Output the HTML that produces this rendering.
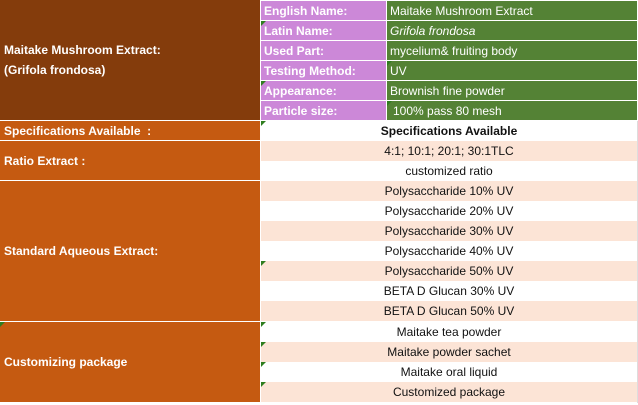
<!DOCTYPE html>
<html><head><meta charset="utf-8"><style>
body{margin:0;width:638px;height:405px;background:#fff;position:relative;overflow:hidden;font-family:"Liberation Sans",sans-serif;font-size:12px}
.c{position:absolute;box-sizing:border-box;display:flex;align-items:center;white-space:nowrap}
.L{color:#fff;font-weight:bold;padding-left:4px}
.p{background:#CC88D8;color:#fff;font-weight:bold;padding-left:3px}
.g{background:#548235;color:#fff;padding-left:3px}
.r{justify-content:center;color:#111;left:261px;width:376px}
.pk{background:#FCE4D6}
.tri{position:absolute;width:0;height:0;border-top:5px solid #2e7d1e;border-right:5px solid transparent}
</style></head><body>
<div class="c L" style="left:0;top:0;width:260px;height:120px;background:#843C0C;line-height:20px">Maitake Mushroom Extract:<br>(Grifola frondosa)</div>
<div class="c p" style="left:261px;top:1px;width:125px;height:19px">English Name:</div>
<div class="c g" style="left:387px;top:1px;width:250px;height:19px">Maitake Mushroom Extract</div>
<div class="c p" style="left:261px;top:21px;width:125px;height:19px">Latin Name:</div>
<div class="c g" style="left:387px;top:21px;width:250px;height:19px;font-style:italic">Grifola frondosa</div>
<div class="c p" style="left:261px;top:41px;width:125px;height:19px">Used Part:</div>
<div class="c g" style="left:387px;top:41px;width:250px;height:19px">mycelium&amp; fruiting body</div>
<div class="c p" style="left:261px;top:61px;width:125px;height:19px">Testing Method:</div>
<div class="c g" style="left:387px;top:61px;width:250px;height:19px">UV</div>
<div class="c p" style="left:261px;top:81px;width:125px;height:19px">Appearance:</div>
<div class="c g" style="left:387px;top:81px;width:250px;height:19px">Brownish fine powder</div>
<div class="c p" style="left:261px;top:101px;width:125px;height:19px">Particle size:</div>
<div class="c g" style="left:387px;top:101px;width:250px;height:19px;padding-left:6px">100% pass 80 mesh</div>

<div class="c L" style="left:0;top:121px;width:260px;height:19px;background:#C55A11">Specifications Available &nbsp;:</div>
<div class="c L" style="left:0;top:141px;width:260px;height:39px;background:#C55A11">Ratio Extract :</div>
<div class="c L" style="left:0;top:181px;width:260px;height:140px;background:#C55A11">Standard Aqueous Extract:</div>
<div class="c L" style="left:0;top:322px;width:260px;height:80px;background:#C55A11">Customizing package</div>

<div class="c r" style="top:121px;height:20px;font-weight:bold">Specifications Available</div>
<div class="c r pk" style="top:141px;height:20px">4:1; 10:1; 20:1; 30:1TLC</div>
<div class="c r" style="top:161px;height:20px">customized ratio</div>
<div class="c r pk" style="top:181px;height:20px">Polysaccharide 10% UV</div>
<div class="c r" style="top:201px;height:20px">Polysaccharide 20% UV</div>
<div class="c r pk" style="top:221px;height:20px">Polysaccharide 30% UV</div>
<div class="c r" style="top:241px;height:20px">Polysaccharide 40% UV</div>
<div class="c r pk" style="top:261px;height:20px">Polysaccharide 50% UV</div>
<div class="c r" style="top:281px;height:20px">BETA D Glucan 30% UV</div>
<div class="c r pk" style="top:301px;height:20px">BETA D Glucan 50% UV</div>
<div class="c r" style="top:322px;height:20px">Maitake tea powder</div>
<div class="c r pk" style="top:342px;height:20px">Maitake powder sachet</div>
<div class="c r" style="top:362px;height:20px">Maitake oral liquid</div>
<div class="c r pk" style="top:382px;height:20px">Customized package</div>
<div class="c" style="left:637px;top:121px;width:1px;height:282px;background:#ddd"></div>

<div class="tri" style="left:261px;top:21px"></div>
<div class="tri" style="left:261px;top:81px"></div>
<div class="tri" style="left:387px;top:61px"></div>
<div class="tri" style="left:387px;top:101px"></div>
<div class="tri" style="left:261px;top:121px"></div>
<div class="tri" style="left:261px;top:261px"></div>
<div class="tri" style="left:0;top:322px"></div>
<div class="tri" style="left:261px;top:322px"></div>
<div class="tri" style="left:261px;top:342px"></div>
<div class="tri" style="left:261px;top:362px"></div>
<div class="tri" style="left:261px;top:382px"></div>
</body></html>
